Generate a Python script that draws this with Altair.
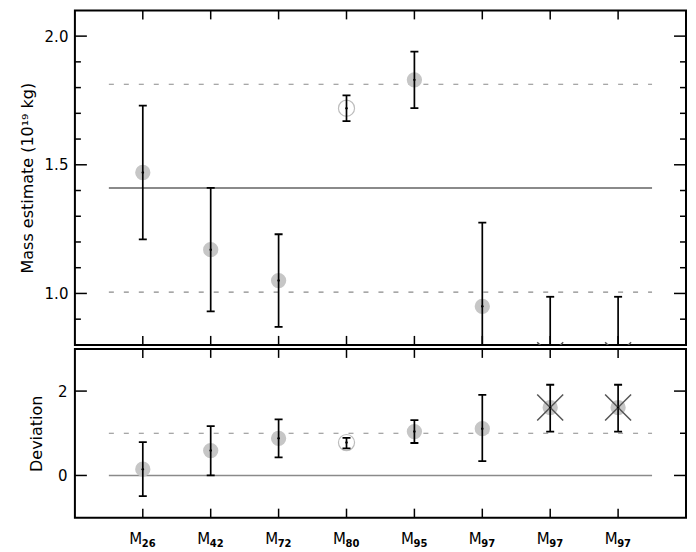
import altair as alt
import pandas as pd

# ---- data ----
label_main = ["M", "M", "M", "M", "M", "M", "M", "M"]
label_sub = ["26", "42", "72", "80", "95", "97", "97", "97"]
positions = [1, 2, 3, 4, 5, 6, 7, 8]
kinds = ["filled", "filled", "filled", "open", "filled", "filled", "cross", "cross"]

mass = [1.47, 1.17, 1.05, 1.72, 1.83, 0.95, 0.76, 0.76]
mass_lo = [1.21, 0.93, 0.87, 1.67, 1.72, 0.63, 0.53, 0.53]
mass_hi = [1.73, 1.41, 1.23, 1.77, 1.94, 1.275, 0.987, 0.987]

dev = [0.15, 0.59, 0.88, 0.78, 1.04, 1.11, 1.61, 1.61]
dev_lo = [-0.49, 0.0, 0.43, 0.64, 0.77, 0.34, 1.04, 1.04]
dev_hi = [0.79, 1.17, 1.33, 0.89, 1.31, 1.91, 2.15, 2.15]

mass_mean = [1.41]
mass_band = [1.005, 1.813]
dev_zero = [0.0]
dev_band = [1.0]
ref_span = [0.5, 8.5]

x_domain = [0, 9]
mass_domain = [0.8, 2.1]
dev_domain = [-1, 3]

mass_major = [1.0, 1.5, 2.0]
mass_minor = [0.9, 1.1, 1.2, 1.3, 1.4, 1.6, 1.7, 1.8, 1.9]
dev_major = [0, 2]
dev_minor_right = [1]

# ---- layout ----
W, H1, H2 = 612, 335, 169
FONT = "DejaVu Sans"
GRAY_FILL = "#c6c6c6"
LINE_GRAY = "#8a8a8a"
X_PATH = "M-1,-1L1,1M-1,1L1,-1"

df = pd.DataFrame({
    "pos": positions, "main": label_main, "sub": label_sub, "kind": kinds,
    "mass": mass, "mass_lo": mass_lo, "mass_hi": mass_hi,
    "dev": dev, "dev_lo": dev_lo, "dev_hi": dev_hi,
})

xscale = alt.Scale(domain=x_domain, nice=False, zero=False)


def panel(val, lo, hi, ydomain, H, solid_vals, dashed_vals, yaxis,
          major, minor_left, minor_right, solid_width, with_labels):
    yscale = alt.Scale(domain=ydomain, nice=False, zero=False)
    X = lambda f: alt.X(f, scale=xscale, axis=None)
    Y = lambda f: alt.Y(f, scale=yscale, axis=yaxis)

    base = alt.Chart(df)

    solid = alt.Chart(pd.DataFrame({"y": solid_vals, "a": ref_span[0], "b": ref_span[1]})).mark_rule(
        color=LINE_GRAY, strokeWidth=solid_width).encode(x=X("a:Q"), x2="b:Q", y=Y("y:Q"))
    dashed = alt.Chart(pd.DataFrame({"y": dashed_vals, "a": ref_span[0], "b": ref_span[1]})).mark_rule(
        color=LINE_GRAY, strokeWidth=1.2, strokeDash=[5, 10]).encode(x=X("a:Q"), x2="b:Q", y=Y("y:Q"))

    gray = base.transform_filter("datum.kind != 'open'").mark_circle(
        size=235, color=GRAY_FILL, opacity=1, clip=True).encode(x=X("pos:Q"), y=Y(f"{val}:Q"))
    openc = base.transform_filter("datum.kind == 'open'").mark_point(
        shape="circle", size=260, filled=True, fill="white", stroke="#bdbdbd",
        strokeWidth=1.2, opacity=1, clip=True).encode(x=X("pos:Q"), y=Y(f"{val}:Q"))
    bars = base.mark_rule(color="black", strokeWidth=1.7, clip=True).encode(
        x=X("pos:Q"), y=Y(f"{lo}:Q"), y2=f"{hi}:Q")
    cap_lo = base.mark_tick(orient="horizontal", size=8, thickness=1.8, color="black",
                            opacity=1, clip=True).encode(x=X("pos:Q"), y=Y(f"{lo}:Q"))
    cap_hi = base.mark_tick(orient="horizontal", size=8, thickness=1.8, color="black",
                            opacity=1, clip=True).encode(x=X("pos:Q"), y=Y(f"{hi}:Q"))
    crosses = base.transform_filter("datum.kind == 'cross'").mark_point(
        shape=X_PATH, size=676, filled=False, stroke="#555555", strokeWidth=1.5,
        opacity=1, clip=True).encode(x=X("pos:Q"), y=Y(f"{val}:Q"))
    dots = base.mark_circle(size=6, color="black", opacity=1, clip=True).encode(
        x=X("pos:Q"), y=Y(f"{val}:Q"))

    # inward tick marks on the frame
    tk = lambda vals: alt.Chart(pd.DataFrame({"v": vals}))
    lmaj = tk(major).mark_rule(color="black", strokeWidth=1.5).encode(
        y=Y("v:Q"), x=alt.value(0), x2=alt.value(12))
    rmaj = tk(major).mark_rule(color="black", strokeWidth=1.5).encode(
        y=Y("v:Q"), x=alt.value(W - 12), x2=alt.value(W))
    layers = [solid, dashed, gray, openc, bars, cap_lo, cap_hi, crosses, dots, lmaj, rmaj]
    if minor_left:
        layers.append(tk(minor_left).mark_rule(color="black", strokeWidth=1.5).encode(
            y=Y("v:Q"), x=alt.value(0), x2=alt.value(6)))
    if minor_right:
        layers.append(tk(minor_right).mark_rule(color="black", strokeWidth=1.5).encode(
            y=Y("v:Q"), x=alt.value(W - 6), x2=alt.value(W)))
    xt = alt.Chart(pd.DataFrame({"p": positions}))
    layers.append(xt.mark_rule(color="black", strokeWidth=1.5).encode(
        x=X("p:Q"), y=alt.value(0), y2=alt.value(9)))
    layers.append(xt.mark_rule(color="black", strokeWidth=1.5).encode(
        x=X("p:Q"), y=alt.value(H - 9), y2=alt.value(H)))

    if with_labels:
        layers.append(base.mark_text(align="center", baseline="alphabetic", dx=-7,
                                     fontSize=15, font=FONT, color="black").encode(
            x=X("pos:Q"), y=alt.value(H + 26), text="main:N"))
        layers.append(base.mark_text(align="center", baseline="alphabetic", dx=6,
                                     fontSize=10, fontWeight="bold", font=FONT,
                                     color="black").encode(
            x=X("pos:Q"), y=alt.value(H + 29), text="sub:N"))

    return alt.layer(*layers).properties(width=W, height=H)


top_yaxis = alt.Axis(values=mass_major, format=".1f", ticks=False, domain=False, grid=False,
                     labelPadding=7, labelFontSize=15, title="Mass estimate (10¹⁹ kg)",
                     titleFontSize=16, titleFontWeight="normal", titlePadding=9)
bot_yaxis = alt.Axis(values=dev_major, format="d", ticks=False, domain=False, grid=False,
                     labelPadding=8, labelFontSize=15, title="Deviation",
                     titleFontSize=16, titleFontWeight="normal", titlePadding=13)

top = panel("mass", "mass_lo", "mass_hi", mass_domain, H1, mass_mean, mass_band,
            top_yaxis, mass_major, mass_minor, mass_minor, 2, False)
bottom = panel("dev", "dev_lo", "dev_hi", dev_domain, H2, dev_zero, dev_band,
               bot_yaxis, dev_major, [], dev_minor_right, 1.5, True)

chart = alt.vconcat(top, bottom, spacing=0).properties(
    padding={"left": 10, "top": 0, "right": 0, "bottom": 0},
    background="white",
).configure_view(stroke="black", strokeWidth=2).configure_axis(
    labelFont=FONT, titleFont=FONT, labelColor="black", titleColor="black"
)

chart.save("out.html", embed_options={"renderer": "svg", "actions": False})
